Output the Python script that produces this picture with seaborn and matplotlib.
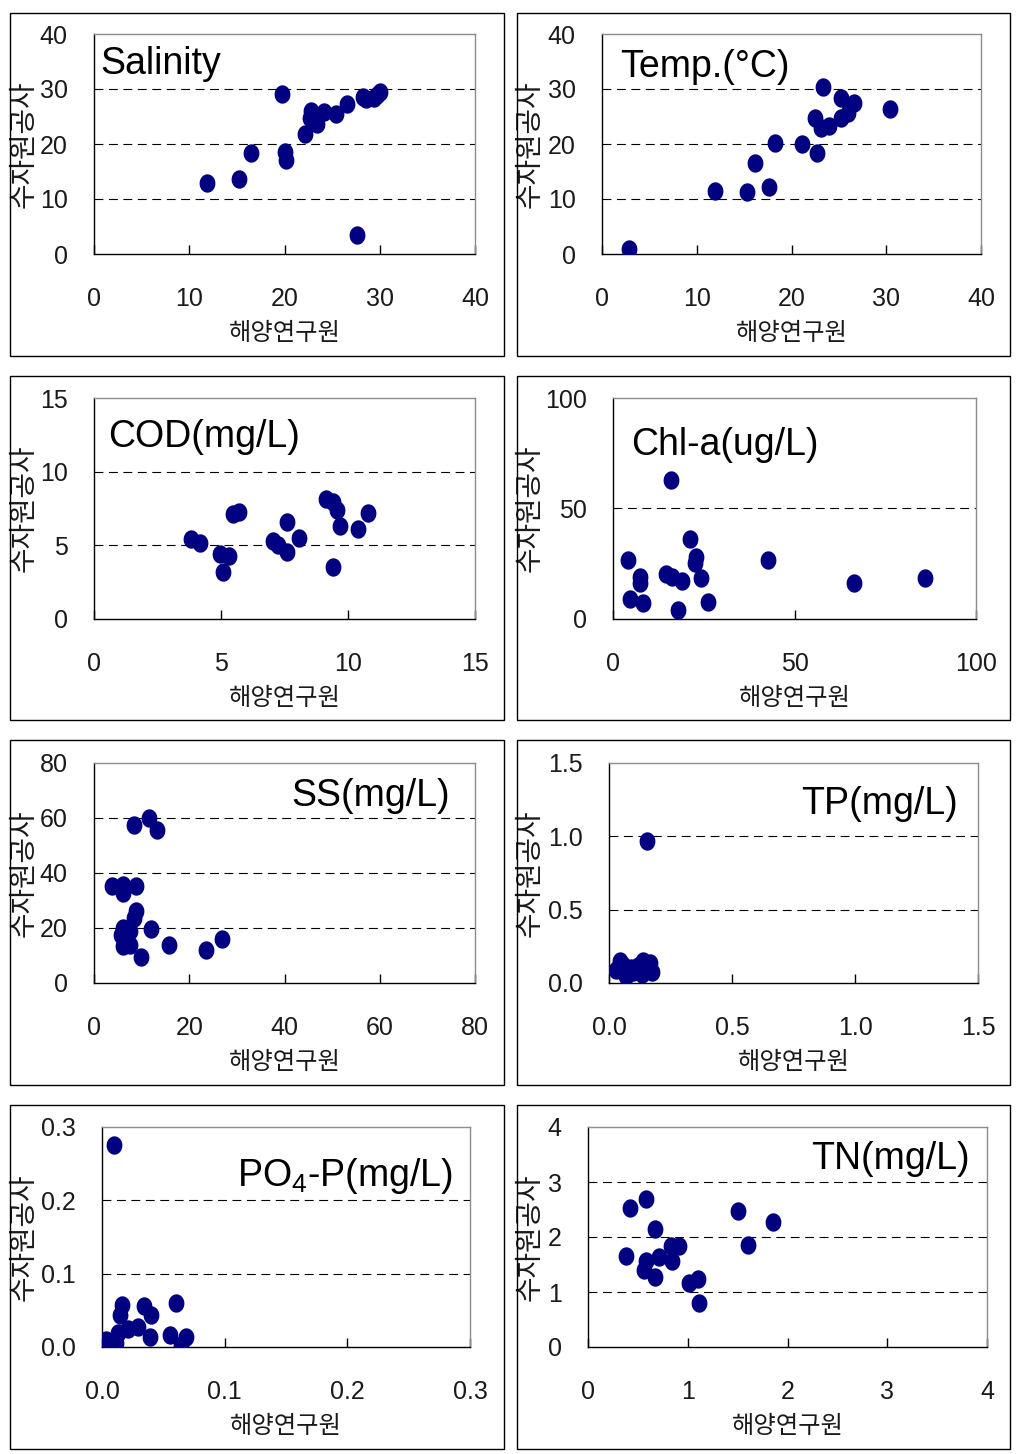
import numpy as np
import matplotlib
matplotlib.use("Agg")
import matplotlib.pyplot as plt
import seaborn as sns
from matplotlib.path import Path
from matplotlib.patches import Rectangle

# values (x: 해양연구원, y: 수자원공사)
sal_x = [11.9, 15.2, 16.5, 19.7, 20.1, 20.2, 22.1, 22.8, 22.7, 23.4, 24.1, 25.4, 26.6, 27.6, 28.2, 28.6, 29.4, 29.7, 30.0]
sal_y = [13.0, 13.6, 18.4, 29.1, 18.6, 17.1, 21.9, 26.0, 24.7, 23.6, 25.8, 25.4, 27.3, 3.5, 28.6, 28.2, 28.3, 28.9, 29.4]

temp_x = [2.8, 11.9, 15.3, 16.2, 17.6, 18.3, 21.1, 22.7, 22.5, 23.3, 23.1, 24.0, 25.2, 25.2, 26.0, 26.6, 30.4]
temp_y = [1.0, 11.5, 11.2, 16.5, 12.1, 20.2, 20.0, 18.3, 24.8, 30.3, 23.0, 23.2, 24.7, 28.4, 25.6, 27.5, 26.4]

cod_x = [3.8, 4.16, 4.95, 5.32, 5.06, 5.48, 5.71, 7.03, 7.25, 7.58, 7.58, 8.08, 9.13, 9.39, 9.55, 9.68, 9.39, 10.38, 10.77]
cod_y = [5.4, 5.14, 4.42, 4.3, 3.17, 7.1, 7.23, 5.3, 4.99, 4.58, 6.55, 5.48, 8.13, 7.91, 7.41, 6.28, 3.56, 6.12, 7.18]

chl_x = [4.0, 16.1, 4.8, 8.3, 7.4, 7.5, 14.5, 16.3, 19.0, 17.8, 21.3, 23.0, 22.5, 24.2, 26.2, 42.6, 66.4, 86.0]
chl_y = [26.7, 62.7, 8.9, 7.4, 19.2, 16.2, 20.4, 19.2, 17.4, 4.1, 36.1, 27.9, 25.5, 18.4, 7.9, 26.7, 16.2, 18.4]

ss_x = [3.8, 6.0, 6.1, 8.8, 8.4, 11.6, 13.2, 8.9, 8.4, 6.0, 5.7, 7.5, 6.0, 7.5, 9.9, 12.0, 15.8, 23.5, 26.8]
ss_y = [35.2, 35.8, 32.7, 35.2, 57.6, 60.0, 55.8, 26.3, 23.6, 20.0, 17.6, 18.8, 13.3, 13.7, 9.3, 19.6, 13.9, 11.9, 16.1]

tp_x = [0.156, 0.030, 0.057, 0.068, 0.091, 0.118, 0.138, 0.152, 0.168, 0.176, 0.136, 0.098, 0.043]
tp_y = [0.97, 0.091, 0.125, 0.045, 0.102, 0.114, 0.152, 0.102, 0.136, 0.075, 0.061, 0.075, 0.148]

po4_x = [0.0095, 0.0166, 0.0144, 0.0343, 0.0397, 0.0606, 0.003, 0.0035, 0.0117, 0.0131, 0.0212, 0.0294, 0.0389, 0.0552, 0.0647, 0.0683]
po4_y = [0.275, 0.057, 0.043, 0.056, 0.044, 0.060, 0.004, 0.010, 0.005, 0.019, 0.024, 0.027, 0.013, 0.017, 0.003, 0.013]

tn_x = [0.418, 0.585, 0.668, 0.378, 0.578, 0.561, 0.712, 0.668, 0.835, 0.912, 0.845, 1.01, 1.10, 1.11, 1.50, 1.60, 1.85]
tn_y = [2.53, 2.70, 2.15, 1.65, 1.57, 1.40, 1.63, 1.27, 1.83, 1.83, 1.56, 1.17, 1.24, 0.80, 2.47, 1.85, 2.27]

titles = ["Salinity", "Temp.(°C)", "COD(mg/L)", "Chl-a(ug/L)",
          "SS(mg/L)", "TP(mg/L)", r"PO$_{\mathrm{4}}$-P(mg/L)", "TN(mg/L)"]
ticks = [[0, 10, 20, 30, 40], [0, 10, 20, 30, 40], [0, 5, 10, 15], [0, 50, 100],
         [0, 20, 40, 60, 80], [0.0, 0.5, 1.0, 1.5], [0.0, 0.1, 0.2, 0.3], [0, 1, 2, 3, 4]]
tick_fmt = ["{:.0f}", "{:.0f}", "{:.0f}", "{:.0f}", "{:.0f}", "{:.1f}", "{:.1f}", "{:.0f}"]
xlabel = "해양연구원"
ylabel = "수자원공사"

sns.set_theme(style="white")
plt.rcParams["font.family"] = ["Liberation Sans", "Noto Sans CJK KR"]
plt.rcParams["mathtext.fontset"] = "custom"
plt.rcParams["mathtext.rm"] = "Liberation Sans"
plt.rcParams["mathtext.it"] = "Liberation Sans"

W, H = 1017, 1454
fig = plt.figure(figsize=(W / 100, H / 100), dpi=100)
fig.patch.set_facecolor("white")

# layout in pixels
boxes = [(10, 13, 504, 356), (517, 13, 1010, 356),
         (10, 376, 504, 720), (517, 376, 1010, 720),
         (10, 740, 504, 1085), (517, 740, 1010, 1085),
         (10, 1105, 504, 1449), (517, 1105, 1010, 1449)]
axrects = [(94, 34, 475, 254), (602, 34, 981, 254),
           (94, 398, 475, 619), (613, 398, 976, 619),
           (94, 763, 475, 983), (609, 763, 978, 983),
           (102, 1127, 470, 1347), (588, 1127, 987, 1347)]
title_pos = [(100, 74, "left"), (620, 77, "left"), (108, 447, "left"), (631, 455, "left"),
             (450, 806, "right"), (958, 814, "right"), (453, 1186, "right"), (970, 1169, "right")]
ylabel_x = [24, 530, 24, 530, 24, 530, 24, 530]

# slightly tall ellipse marker like the original
t = np.linspace(0, 2 * np.pi, 60)
ell = Path(np.column_stack([0.43 * np.cos(t), 0.5 * np.sin(t)]), closed=True)

data = [(sal_x, sal_y), (temp_x, temp_y), (cod_x, cod_y), (chl_x, chl_y),
        (ss_x, ss_y), (tp_x, tp_y), (po4_x, po4_y), (tn_x, tn_y)]

for i, (xs, ys) in enumerate(data):
    bl, bt, br, bb = boxes[i]
    fig.add_artist(Rectangle((bl / W, 1 - bb / H), (br - bl) / W, (bb - bt) / H,
                             transform=fig.transFigure, fill=False, ec="black", lw=1.0))

    l, tp, r, b = axrects[i]
    ax = fig.add_axes([l / W, 1 - b / H, (r - l) / W, (b - tp) / H])
    sns.scatterplot(x=xs, y=ys, ax=ax, marker=ell, s=175, color="#000080",
                    linewidth=0, edgecolor="#000080", zorder=3)

    tk = ticks[i]
    ax.set_xlim(tk[0], tk[-1])
    ax.set_ylim(tk[0], tk[-1])
    ax.set_xticks(tk)
    ax.set_yticks(tk)
    ax.set_xticklabels([tick_fmt[i].format(v) for v in tk])
    ax.set_yticklabels([tick_fmt[i].format(v) for v in tk])
    for v in tk[1:-1]:
        ax.axhline(v, color="black", lw=0.8, ls=(0, (8, 5)), zorder=1)

    ax.tick_params(axis="x", direction="in", length=6.5, width=1, color="black",
                   labelsize=18, pad=24, bottom=True)
    ax.tick_params(axis="y", length=0, labelsize=18, pad=19, left=True)
    for lab in ax.get_xticklabels() + ax.get_yticklabels():
        lab.set_color("#1a1a1a")

    for side in ["left", "bottom"]:
        ax.spines[side].set_color("black")
        ax.spines[side].set_linewidth(1.0)
    for side in ["top", "right"]:
        ax.spines[side].set_color("#8c8c8c")
        ax.spines[side].set_linewidth(1.0)

    ax.set_xlabel(xlabel, family="Noto Sans CJK KR", fontsize=17.5, color="#1a1a1a", va="center")
    ax.xaxis.set_label_coords(0.5, -79 / (b - tp))
    ax.set_ylabel(ylabel, family="Noto Sans CJK KR", fontsize=20, color="#1a1a1a", va="center")
    ax.yaxis.set_label_coords((ylabel_x[i] - l) / (r - l), 0.5)

    tx, ty, ha = title_pos[i]
    fig.text(tx / W, 1 - ty / H, titles[i], ha=ha, va="baseline",
             family="Liberation Sans", fontsize=27, color="black")

fig.savefig("out.png", dpi=100, facecolor="white")
